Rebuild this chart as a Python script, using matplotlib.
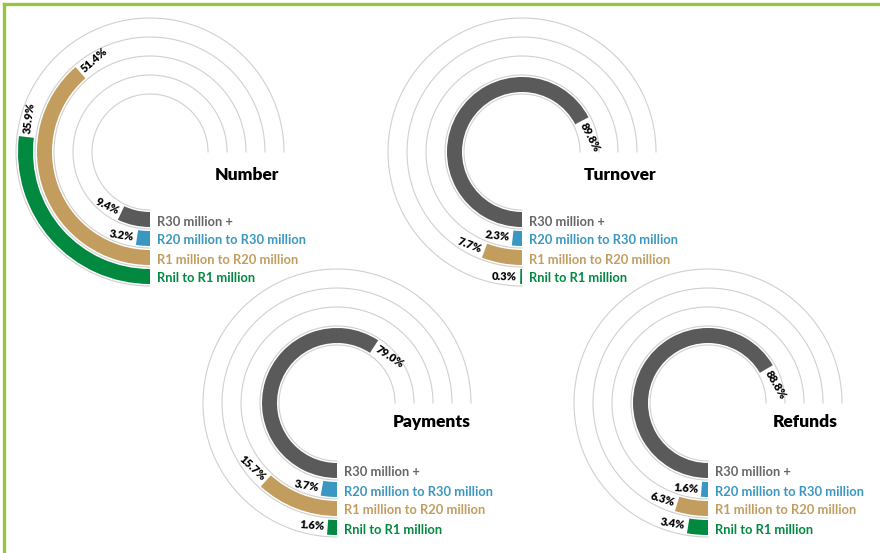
import numpy as np
import matplotlib
matplotlib.use("Agg")
import matplotlib.pyplot as plt
from matplotlib.lines import Line2D

plt.rcParams['font.family'] = ['Lato', 'DejaVu Sans']

# data
bands = ["R30 million +", "R20 million to R30 million",
         "R1 million to R20 million", "Rnil to R1 million"]
colors = ["#5a5a5a", "#3a97c1", "#c29d5e", "#00893f"]
label_colors = ["#666666", "#3a97c1", "#c29d5e", "#00893f"]

titles = ["Number", "Turnover", "Payments", "Refunds"]
number = [9.4, 3.2, 51.4, 35.9]
turnover = [89.8, 2.3, 7.7, 0.3]
payments = [79.0, 3.7, 15.7, 1.6]
refunds = [88.8, 1.6, 6.3, 3.4]
values = [number, turnover, payments, refunds]

# chart centres in pixels (from top-left) and title offsets
centres = [(150, 152), (522, 152), (337, 403), (708, 403)]
title_off = [(97, -23), (98, -23), (95, -19), (97, -19)]

W, H = 880, 553
R = 140
ring_edges = [58, 77, 96, 115, 134]
pad = 2
full = 1.5 * np.pi  # 100% = three quarters of a circle

fig = plt.figure(figsize=(W / 100, H / 100), dpi=100)

for title, vals, (cx, cy), toff in zip(titles, values, centres, title_off):
    ax = fig.add_axes([(cx - R) / W, 1 - (cy + R) / H, 2 * R / W, 2 * R / H],
                      projection='polar')
    ax.set_theta_zero_location('S')
    ax.set_theta_direction(-1)
    ax.set_ylim(0, R)
    ax.set_axis_off()
    ax.patch.set_alpha(0)

    t = np.linspace(0, full, 300)
    for r in ring_edges:
        ax.plot(t, np.full_like(t, r), color="#d0d0d0", lw=0.8, zorder=1)

    for i, (v, c) in enumerate(zip(vals, colors)):
        r0 = ring_edges[i] + pad
        r1 = ring_edges[i + 1] - pad
        ang = v / 100 * full
        ax.bar(0, r1 - r0, width=ang, bottom=r0, align='edge',
               color=c, edgecolor='none', zorder=2)

        rm = (r0 + r1) / 2
        tang = np.degrees(np.arctan2(np.sin(ang), -np.cos(ang)))
        ha = 'left'
        if tang > 90:
            tang -= 180
            ha = 'right'
        elif tang < -90:
            tang += 180
            ha = 'right'
        ax.text(ang + 3 / rm, rm, f"{v:.1f}%", rotation=tang,
                rotation_mode='anchor', ha=ha, va='center',
                fontsize=8, fontweight='heavy', color='black', zorder=3)

        ax.annotate(bands[i], xy=(0, rm), xytext=(7, -2),
                    textcoords='offset pixels', ha='left', va='center',
                    fontsize=9.3, fontweight='bold', color=label_colors[i])

    ax.annotate(title, xy=(0, 0), xytext=toff, textcoords='offset pixels',
                ha='center', va='center', fontsize=12.5, fontweight='heavy',
                color='black')

# green frame
fig.add_artist(Line2D([4 / W, 1], [1 - 4 / H, 1 - 4 / H], color="#9ac43c",
                      lw=2.4, transform=fig.transFigure))
fig.add_artist(Line2D([4 / W, 4 / W], [0, 1 - 4 / H], color="#9ac43c",
                      lw=2.4, transform=fig.transFigure))

fig.savefig("out.png", dpi=100)
